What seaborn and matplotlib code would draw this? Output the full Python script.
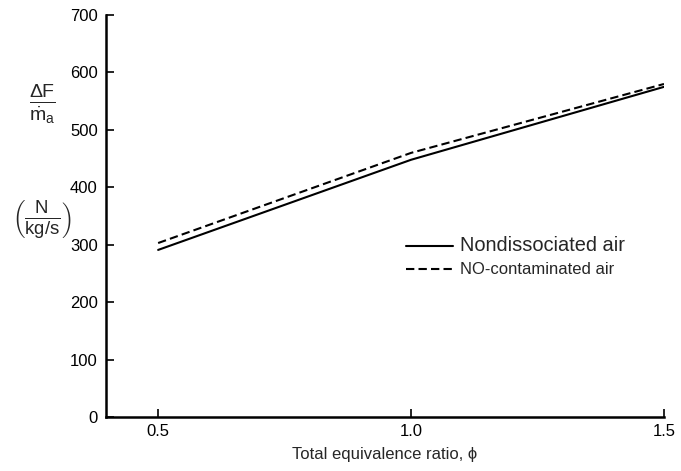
import matplotlib
matplotlib.use("Agg")
import matplotlib.pyplot as plt
import seaborn as sns
import pandas as pd

phi = [0.5, 1.0, 1.5]
nondissociated = [291, 448, 575]
no_contaminated = [303, 460, 580]
series_names = ["Nondissociated air", "NO-contaminated air"]
xticks = [0.5, 1.0, 1.5]
xticklabels = ["0.5", "1.0", "1.5"]
yticks = [0, 100, 200, 300, 400, 500, 600, 700]

sns.set_style("white")
plt.rcParams['font.family'] = ['Liberation Sans', 'DejaVu Sans']
plt.rcParams['mathtext.fontset'] = 'custom'
plt.rcParams['mathtext.rm'] = 'Liberation Sans'
plt.rcParams['mathtext.it'] = 'Liberation Sans'
plt.rcParams['mathtext.bf'] = 'Liberation Sans'

df = pd.DataFrame({
    "phi": phi * 2,
    "val": nondissociated + no_contaminated,
    "series": [series_names[0]] * 3 + [series_names[1]] * 3,
})

fig = plt.figure(figsize=(6.81, 4.71), dpi=100)
ax = fig.add_axes([0.1557, 0.1146, 0.9750 - 0.1557, 0.968 - 0.1146])
sns.lineplot(data=df, x="phi", y="val", hue="series", style="series",
             palette=["black", "black"], dashes=[(None, None), (4, 2)],
             linewidth=1.5, ax=ax, legend=False)
lines = ax.get_lines()
lines[0].set_linestyle('-')
lines[1].set_dashes([4, 2])

ax.set_xlim(0.397, 1.5)
ax.set_ylim(0, 700)
ax.set_xticks(xticks)
ax.set_xticklabels(xticklabels)
ax.set_yticks(yticks)
ax.tick_params(bottom=True, left=True, direction='in', length=6, width=1.2,
               labelsize=12, colors='black', pad=5)
ax.tick_params(axis='y', pad=6)
for s in ['top', 'right']:
    ax.spines[s].set_visible(False)
for s in ['left', 'bottom']:
    ax.spines[s].set_linewidth(1.8)
    ax.spines[s].set_color('black')
ax.set_xlabel("Total equivalence ratio, ϕ", fontsize=12, labelpad=6)
ax.set_ylabel("")

fig.text(0.062, 0.778, r'$\frac{\Delta F}{\dot{m}_{a}}$', fontsize=20, ha='center', va='center')
fig.text(0.062, 0.533, r'$\left(\frac{N}{kg/s}\right)$', fontsize=19, ha='center', va='center')

from matplotlib.lines import Line2D
h1 = Line2D([], [], color='black', lw=1.5)
h2 = Line2D([], [], color='black', lw=1.5, dashes=[4, 2])
leg = ax.legend([h1, h2], series_names, loc='center left', bbox_to_anchor=(0.515, 0.40),
                frameon=False, handlelength=3.4, handletextpad=0.5, labelspacing=0.5)
leg.get_texts()[0].set_fontsize(14.4)
leg.get_texts()[1].set_fontsize(12)

fig.savefig("out.png", dpi=100)
